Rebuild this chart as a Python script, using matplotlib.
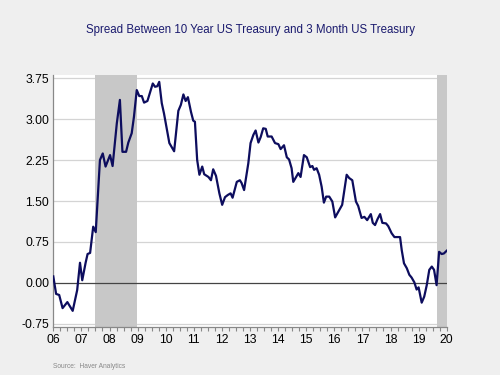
#!/usr/bin/env python3
"""
Spread between 10 year and 3 month US Treasury, 2006-2020.
"""

import matplotlib

matplotlib.use("Agg")
import matplotlib.pyplot as plt
from matplotlib.ticker import MultipleLocator

plt.rcParams["font.family"] = ["Liberation Sans", "DejaVu Sans"]

# decimal year, spread (percentage points)
years = [
    2006.00, 2006.10, 2006.21, 2006.33, 2006.50, 2006.69, 2006.85, 2006.95,
    2007.03, 2007.15, 2007.22, 2007.31, 2007.42, 2007.51, 2007.66, 2007.76,
    2007.86, 2008.02, 2008.11, 2008.26, 2008.37, 2008.46, 2008.59, 2008.67,
    2008.79, 2008.87, 2008.97, 2009.06, 2009.15, 2009.23, 2009.35, 2009.54,
    2009.62, 2009.70, 2009.77, 2009.86, 2009.94, 2010.13, 2010.21, 2010.30,
    2010.45, 2010.54, 2010.63, 2010.71, 2010.79, 2010.90, 2010.98, 2011.04,
    2011.12, 2011.20, 2011.30, 2011.37, 2011.52, 2011.61, 2011.69, 2011.79,
    2011.91, 2012.01, 2012.11, 2012.21, 2012.31, 2012.38, 2012.53, 2012.64,
    2012.70, 2012.79, 2012.94, 2013.02, 2013.12, 2013.20, 2013.30, 2013.38,
    2013.47, 2013.56, 2013.63, 2013.77, 2013.89, 2014.01, 2014.09, 2014.21,
    2014.31, 2014.39, 2014.48, 2014.54, 2014.63, 2014.72, 2014.80, 2014.92,
    2015.02, 2015.14, 2015.22, 2015.28, 2015.37, 2015.46, 2015.55, 2015.63,
    2015.71, 2015.82, 2015.93, 2016.03, 2016.18, 2016.28, 2016.44, 2016.53,
    2016.64, 2016.77, 2016.85, 2016.97, 2017.07, 2017.17, 2017.30, 2017.37,
    2017.45, 2017.54, 2017.63, 2017.71, 2017.84, 2017.92, 2018.04, 2018.14,
    2018.24, 2018.34, 2018.40, 2018.48, 2018.58, 2018.67, 2018.75, 2018.85,
    2018.93, 2019.00, 2019.11, 2019.20, 2019.29, 2019.38, 2019.47, 2019.55,
    2019.64, 2019.73, 2019.82, 2019.90, 2020.00,
]
spread = [
    0.12, -0.20, -0.22, -0.46, -0.35, -0.51, -0.13, 0.37,
    0.05, 0.37, 0.53, 0.55, 1.03, 0.93, 2.25, 2.37,
    2.13, 2.34, 2.14, 2.92, 3.35, 2.40, 2.40, 2.57,
    2.74, 3.04, 3.53, 3.42, 3.42, 3.30, 3.33, 3.65,
    3.59, 3.60, 3.68, 3.29, 3.10, 2.56, 2.49, 2.41,
    3.15, 3.26, 3.45, 3.33, 3.40, 3.13, 2.97, 2.95,
    2.25, 1.98, 2.13, 1.99, 1.94, 1.88, 2.08, 1.96,
    1.64, 1.43, 1.57, 1.61, 1.64, 1.56, 1.85, 1.88,
    1.83, 1.70, 2.19, 2.56, 2.71, 2.79, 2.57, 2.67,
    2.83, 2.82, 2.68, 2.68, 2.56, 2.54, 2.45, 2.52,
    2.30, 2.26, 2.10, 1.85, 1.93, 2.01, 1.94, 2.34,
    2.30, 2.12, 2.14, 2.07, 2.10, 1.98, 1.76, 1.47,
    1.58, 1.58, 1.49, 1.20, 1.34, 1.43, 1.98, 1.92,
    1.88, 1.49, 1.41, 1.19, 1.21, 1.15, 1.26, 1.10,
    1.06, 1.17, 1.26, 1.10, 1.09, 1.04, 0.91, 0.84,
    0.84, 0.84, 0.60, 0.36, 0.27, 0.15, 0.10, 0.01,
    -0.12, -0.08, -0.36, -0.25, -0.04, 0.24, 0.30, 0.24,
    -0.04, 0.57, 0.53, 0.54, 0.59,
]

# recession bands (start, end) in decimal years as placed on the chart
recessions = [(2007.48, 2008.97), (2019.67, 2020.00)]

year_labels = ["06", "07", "08", "09", "10", "11", "12", "13",
               "14", "15", "16", "17", "18", "19", "20"]
y_ticks = [-0.75, 0.00, 0.75, 1.50, 2.25, 3.00, 3.75]

bg = "#efefef"
navy = "#0d0d5e"

fig = plt.figure(figsize=(5, 3.75), dpi=100, facecolor=bg)
ax = fig.add_axes([0.1066, 0.1288, 0.7868, 0.6704])
ax.set_facecolor("white")

for start, end in recessions:
    ax.axvspan(start, end, color="#c8c8c8", lw=0, zorder=1)

for y in y_ticks:
    if y != 0:
        ax.axhline(y, color="#d4d4d4", lw=0.9, zorder=0.5)
ax.axhline(0, color="#444444", lw=0.9, zorder=2)

ax.plot(years, spread, color=navy, lw=1.6, zorder=3)

ax.set_xlim(2006, 2020)
ax.set_ylim(-0.80, 3.80)

ax.set_yticks(y_ticks)
ax.set_yticklabels([f"{v:.2f}" for v in y_ticks])
ax.set_xticks(list(range(2006, 2021)))
ax.set_xticklabels(year_labels)
ax.xaxis.set_minor_locator(MultipleLocator(0.25))

ax.tick_params(axis="x", which="both", direction="out", length=3, width=0.8,
               color="#888888", labelsize=8.7, pad=2)
ax.tick_params(axis="y", which="both", direction="in", length=0,
               labelsize=8.7, pad=3)

for side in ["top", "right"]:
    ax.spines[side].set_visible(False)
for side in ["left", "bottom"]:
    ax.spines[side].set_color("#888888")
    ax.spines[side].set_linewidth(0.9)

fig.text(0.5, 0.92, "Spread Between 10 Year US Treasury and 3 Month US Treasury",
         ha="center", va="center", fontsize=8.3, color="#1a1a6e")
fig.text(0.106, 0.012, "Source:  Haver Analytics", ha="left", va="bottom",
         fontsize=4.8, color="#888888")

fig.savefig("out.png", dpi=100, facecolor=bg)
